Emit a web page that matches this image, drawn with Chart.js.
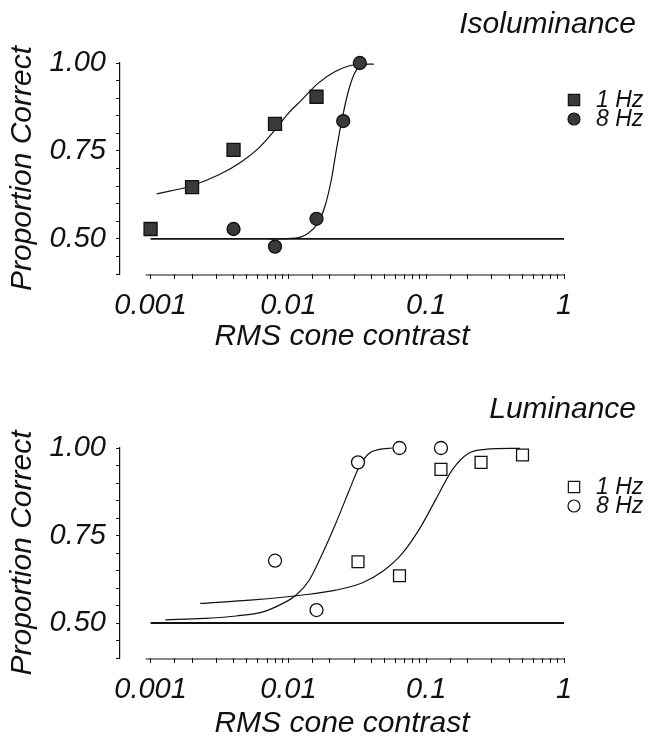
<!DOCTYPE html>
<html>
<head>
<meta charset="utf-8">
<title>Proportion correct vs RMS cone contrast</title>
<script src="https://cdn.jsdelivr.net/npm/chart.js@4"></script>
<style>
  body { margin: 0; background: #fff; }
  .panel { position: absolute; left: 0; width: 648px; height: 370px; }
</style>
</head>
<body>
<div class="panel" style="top:0"><canvas id="iso" width="648" height="370"></canvas></div>
<div class="panel" style="top:370px"><canvas id="lum" width="648" height="370"></canvas></div>
<script>
// Isoluminance panel
const isoSquaresX = [0.001, 0.002, 0.004, 0.008, 0.016];
const isoSquaresY = [0.528, 0.647, 0.753, 0.827, 0.904];
const isoCirclesX = [0.004, 0.008, 0.016, 0.025, 0.033];
const isoCirclesY = [0.528, 0.478, 0.557, 0.835, 1.0];
const isoFit1X = [0.00111, 0.00199, 0.00313, 0.0046, 0.00608, 0.008, 0.01, 0.0125, 0.0164, 0.0217, 0.0302, 0.0417];
const isoFit1Y = [0.628, 0.651, 0.682, 0.720, 0.758, 0.810, 0.857, 0.895, 0.942, 0.975, 0.995, 0.997];
const isoFit8X = [0.0072, 0.0112, 0.0139, 0.0164, 0.0184, 0.0205, 0.0223, 0.0242, 0.027, 0.0302, 0.0338];
const isoFit8Y = [0.5, 0.502, 0.516, 0.545, 0.592, 0.668, 0.753, 0.829, 0.914, 0.971, 0.995];

// Luminance panel
const lumSquaresX = [0.032, 0.064, 0.128, 0.25, 0.5];
const lumSquaresY = [0.675, 0.635, 0.939, 0.959, 0.98];
const lumCirclesX = [0.008, 0.016, 0.032, 0.064, 0.128];
const lumCirclesY = [0.678, 0.537, 0.959, 1.0, 1.0];
const lumFit1X = [0.00229, 0.00555, 0.0127, 0.0221, 0.0345, 0.0481, 0.0671, 0.0885, 0.1167, 0.1542, 0.2032, 0.2679, 0.48];
const lumFit1Y = [0.556, 0.566, 0.58, 0.594, 0.615, 0.647, 0.699, 0.766, 0.851, 0.937, 0.985, 0.996, 0.999];
const lumFit8X = [0.00128, 0.00242, 0.0042, 0.00655, 0.00912, 0.0114, 0.0142, 0.0177, 0.0221, 0.0277, 0.0327, 0.0386, 0.0456, 0.0569];
const lumFit8Y = [0.509, 0.513, 0.52, 0.532, 0.556, 0.58, 0.623, 0.699, 0.785, 0.88, 0.947, 0.985, 0.996, 1.0];

// chance level
const chanceX = [0.001, 1];
const chanceY = [0.5, 0.5];

const yMajor = [0.5, 0.75, 1.0];
const legendLabels = ['1 Hz', '8 Hz'];
const FONT = "'Liberation Sans', Arial, sans-serif";

function pts(xs, ys) {
  return xs.map((x, i) => ({ x: x, y: ys[i] }));
}

// x axis line and the panel title / legend, drawn off the chart's own scales
const panelDecor = {
  id: 'panelDecor',
  afterDraw(chart, args, opts) {
    const ctx = chart.ctx;
    const x = chart.scales.x;
    const area = chart.chartArea;
    ctx.save();
    ctx.strokeStyle = '#111';
    ctx.lineWidth = 1.2;
    ctx.beginPath();
    ctx.moveTo(x.getPixelForValue(0.00092), area.bottom + 1);
    ctx.lineTo(x.getPixelForValue(1) + 1, area.bottom + 1);
    ctx.stroke();

    ctx.fillStyle = '#111';
    ctx.font = 'italic 30px ' + FONT;
    ctx.textAlign = 'right';
    ctx.textBaseline = 'middle';
    ctx.fillText(opts.title, 636, opts.titleY);

    ctx.font = 'italic 23px ' + FONT;
    ctx.textAlign = 'left';
    opts.legend.forEach((item, i) => {
      const ds = chart.data.datasets[item.dataset];
      const y = opts.legendY + i * 19;
      ctx.save();
      ctx.fillStyle = ds.pointBackgroundColor;
      ctx.strokeStyle = ds.pointBorderColor;
      ctx.lineWidth = 1.2;
      const style = ds.pointStyle;
      Chart.helpers.drawPoint(ctx, { pointStyle: style, radius: style === 'rect' ? 8 : 6, borderWidth: 1.2 }, 574, y);
      ctx.restore();
      ctx.fillText(legendLabels[i], 596, y + 1);
    });
    ctx.restore();
  }
};

function makePanel(id, cfg) {
  const filled = cfg.filled;
  const markFill = filled ? '#3a3a3a' : '#fff';
  const lineDs = (data, width) => ({
    type: 'scatter', data: data, showLine: true, pointRadius: 0, borderColor: '#111',
    borderWidth: width, cubicInterpolationMode: 'monotone', clip: false, order: 2
  });
  const datasets = [
    lineDs(pts(chanceX, chanceY), 1.8),
    lineDs(pts(cfg.fit1X, cfg.fit1Y), 1.2),
    lineDs(pts(cfg.fit8X, cfg.fit8Y), 1.2),
    {
      label: '1 Hz', type: 'scatter', data: pts(cfg.sqX, cfg.sqY), pointStyle: 'rect',
      pointRadius: filled ? 9.2 : 8.4, pointBackgroundColor: markFill, pointBorderColor: '#111',
      pointBorderWidth: 1.3, clip: false, order: 1
    },
    {
      label: '8 Hz', type: 'scatter', data: pts(cfg.ciX, cfg.ciY), pointStyle: 'circle',
      pointRadius: 6.5, pointBackgroundColor: markFill, pointBorderColor: '#111',
      pointBorderWidth: 1.3, clip: false, order: 1
    }
  ];
  return new Chart(document.getElementById(id), {
    type: 'scatter',
    data: { datasets: datasets },
    plugins: [panelDecor],
    options: {
      responsive: false,
      animation: false,
      devicePixelRatio: 1,
      layout: { padding: { top: cfg.top, right: 84, left: 0, bottom: 0 } },
      plugins: {
        legend: { display: false },
        tooltip: { enabled: false },
        panelDecor: { title: cfg.title, titleY: cfg.titleY, legendY: cfg.legendY, legend: [{ dataset: 3 }, { dataset: 4 }] }
      },
      scales: {
        x: {
          type: 'logarithmic',
          min: 0.00063,
          max: 1,
          afterFit: s => { s.height = cfg.xHeight; },
          border: { display: false },
          grid: {
            drawOnChartArea: false, drawTicks: true, tickLength: 5, lineWidth: 1,
            tickColor: c => (c.tick && c.tick.value < 0.00099) ? 'rgba(0,0,0,0)' : '#111'
          },
          ticks: {
            autoSkip: false, maxRotation: 0, minRotation: 0, padding: cfg.xTickPad,
            color: '#111', font: { family: FONT, size: 29, style: 'italic' },
            callback: v => {
              const l = Math.log10(v);
              if (Math.abs(l - Math.round(l)) > 1e-6 || v < 0.00099) return '';
              return v === 1 ? '1' : String(Number(v.toPrecision(1)));
            }
          },
          title: {
            display: true, text: 'RMS cone contrast', color: '#111',
            font: { family: FONT, size: 30, style: 'italic', lineHeight: 1 },
            padding: { top: 0, bottom: cfg.xTitlePad }
          }
        },
        y: {
          min: 0.4,
          max: 1.0,
          afterFit: s => { s.width = 120; },
          border: { display: true, color: '#111', width: 1.2 },
          grid: { drawOnChartArea: false, drawTicks: true, tickLength: 4, color: '#111' },
          ticks: {
            stepSize: 0.05, autoSkip: false, padding: 10, color: '#111',
            font: { family: FONT, size: 29, style: 'italic' },
            callback: v => yMajor.some(m => Math.abs(m - v) < 1e-6) ? v.toFixed(2) : ''
          },
          title: {
            display: true, text: 'Proportion Correct', color: '#111',
            font: { family: FONT, size: 30, style: 'italic', lineHeight: 1 },
            padding: { top: 8, bottom: 0 }
          }
        }
      }
    }
  });
}

makePanel('iso', {
  filled: true, title: 'Isoluminance', titleY: 25, legendY: 100,
  top: 63, xHeight: 96, xTickPad: 10, xTitlePad: 18,
  sqX: isoSquaresX, sqY: isoSquaresY, ciX: isoCirclesX, ciY: isoCirclesY,
  fit1X: isoFit1X, fit1Y: isoFit1Y, fit8X: isoFit8X, fit8Y: isoFit8Y
});

makePanel('lum', {
  filled: false, title: 'Luminance', titleY: 40, legendY: 117,
  top: 78, xHeight: 82, xTickPad: 10, xTitlePad: 1,
  sqX: lumSquaresX, sqY: lumSquaresY, ciX: lumCirclesX, ciY: lumCirclesY,
  fit1X: lumFit1X, fit1Y: lumFit1Y, fit8X: lumFit8X, fit8Y: lumFit8Y
});
</script>
</body>
</html>
